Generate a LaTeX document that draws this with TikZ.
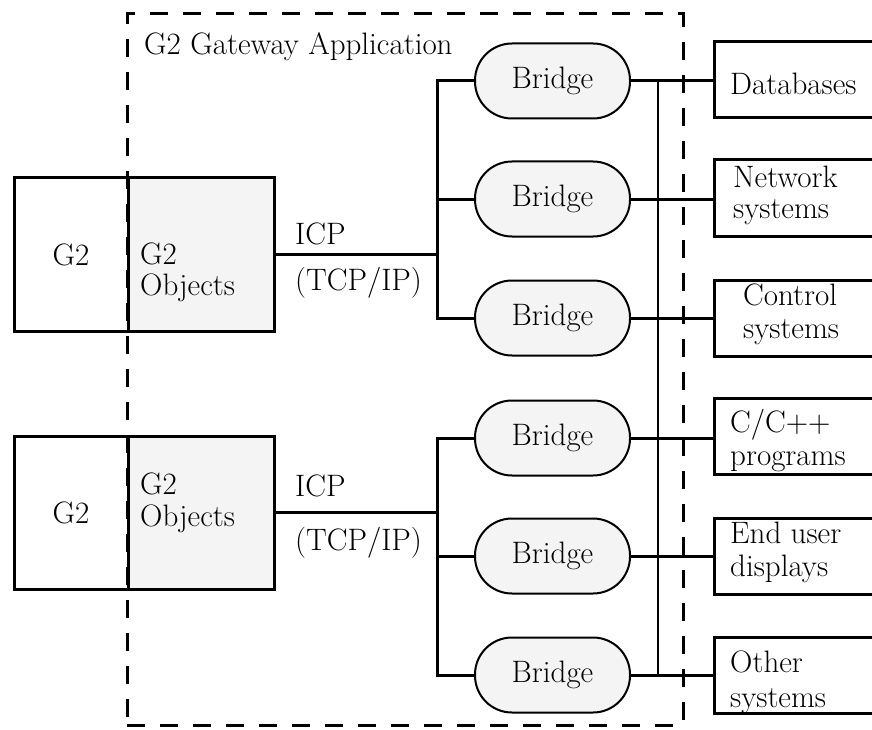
\documentclass[tikz,border=0pt]{standalone}
\definecolor{lightg}{HTML}{F4F4F4}
\tikzset{
  lbl/.style={inner sep=0pt, anchor=north west, align=left, font=\fontsize{31}{33}\selectfont},
  box/.style={draw, line width=3pt, inner sep=0pt},
  bridgebox/.style={draw, line width=2pt, fill=lightg, rounded corners=37pt, minimum width=155pt, minimum height=75pt, inner sep=0pt, font=\fontsize{31}{33}\selectfont},
  extbox/.style={box, minimum width=175pt, minimum height=76pt, anchor=west},
  conn/.style={line width=3pt},
  appbox/.style={draw, line width=3pt, dash pattern=on 18pt off 15pt, minimum width=556pt, minimum height=711pt, inner sep=0pt},
}
\begin{document}
\begin{tikzpicture}[x=1pt,y=-1pt]
\clip (0,0) rectangle (872,730);
% G2 boxes
\node[box, minimum width=114pt, minimum height=153pt, font=\fontsize{31}{33}\selectfont] (g1) at (71,254.5) {G2};
\node[box, fill=lightg, minimum width=146pt, minimum height=153pt] (o1) at (201,254.5) {};
\node[box, minimum width=114pt, minimum height=153pt, font=\fontsize{31}{33}\selectfont] (g2) at (71,512.5) {G2};
\node[box, fill=lightg, minimum width=146pt, minimum height=153pt] (o2) at (201,512.5) {};
\node[lbl, font=\fontsize{31}{31}\selectfont] (o1t) at (140,243) {G2\\Objects};
\node[lbl, font=\fontsize{31}{32}\selectfont] (o2t) at (140,473) {G2\\Objects};
% application frame
\node[appbox] (app) at (405,369.5) {};
\node[lbl] (apptitle) at (144,32) {G2 Gateway Application};
% ICP labels
\node[lbl] (icp1) at (295,223) {ICP};
\node[lbl] (tcp1) at (295,267) {(TCP/IP)};
\node[lbl] (icp2) at (295,475) {ICP};
\node[lbl] (tcp2) at (295,527) {(TCP/IP)};
% bridges
\node[bridgebox] (b1) at (552.5,81) {Bridge};
\node[bridgebox] (b2) at (552.5,199) {Bridge};
\node[bridgebox] (b3) at (552.5,318) {Bridge};
\node[bridgebox] (b4) at (552.5,438) {Bridge};
\node[bridgebox] (b5) at (552.5,556) {Bridge};
\node[bridgebox] (b6) at (552.5,675) {Bridge};
% external boxes
\node[extbox] (e1) at (713,79.5) {};
\node[extbox] (e2) at (713,198) {};
\node[extbox] (e3) at (713,318) {};
\node[extbox] (e4) at (713,436) {};
\node[extbox] (e5) at (713,556) {};
\node[extbox] (e6) at (713,675) {};
\node[lbl] (e1t) at (730,73) {Databases};
\node[lbl, font=\fontsize{31}{31}\selectfont] (e2t) at (733,166) {Network\\systems};
\node[lbl] (e3t) at (743,284) {Control\\systems};
\node[lbl] (e4t) at (730,409) {C/C++\\programs};
\node[lbl] (e5t) at (730,522) {End user\\displays};
\node[lbl, font=\fontsize{31}{35}\selectfont] (e6t) at (730,651) {Other\\systems};
% trunks
\coordinate (t1) at (437,254.5);
\coordinate (t2) at (437,512.5);
\coordinate (bus) at (658,0);
\draw[conn] (o1.east) -- (t1);
\draw[conn] (o2.east) -- (t2);
\draw[conn] (b1.west) -- (b1.west -| t1) -- (b3.west -| t1) -- (b3.west);
\draw[conn] (b2.west) -- (b2.west -| t1);
\draw[conn] (b4.west) -- (b4.west -| t2) -- (b6.west -| t2) -- (b6.west);
\draw[conn] (b5.west) -- (b5.west -| t2);
\draw[line width=2pt] (b1.east -| bus) -- (b6.east -| bus);
\foreach \i in {1,...,6} {
  \draw[conn] (b\i.east) -- (b\i.east -| e\i.west);
}
\end{tikzpicture}
\end{document}
